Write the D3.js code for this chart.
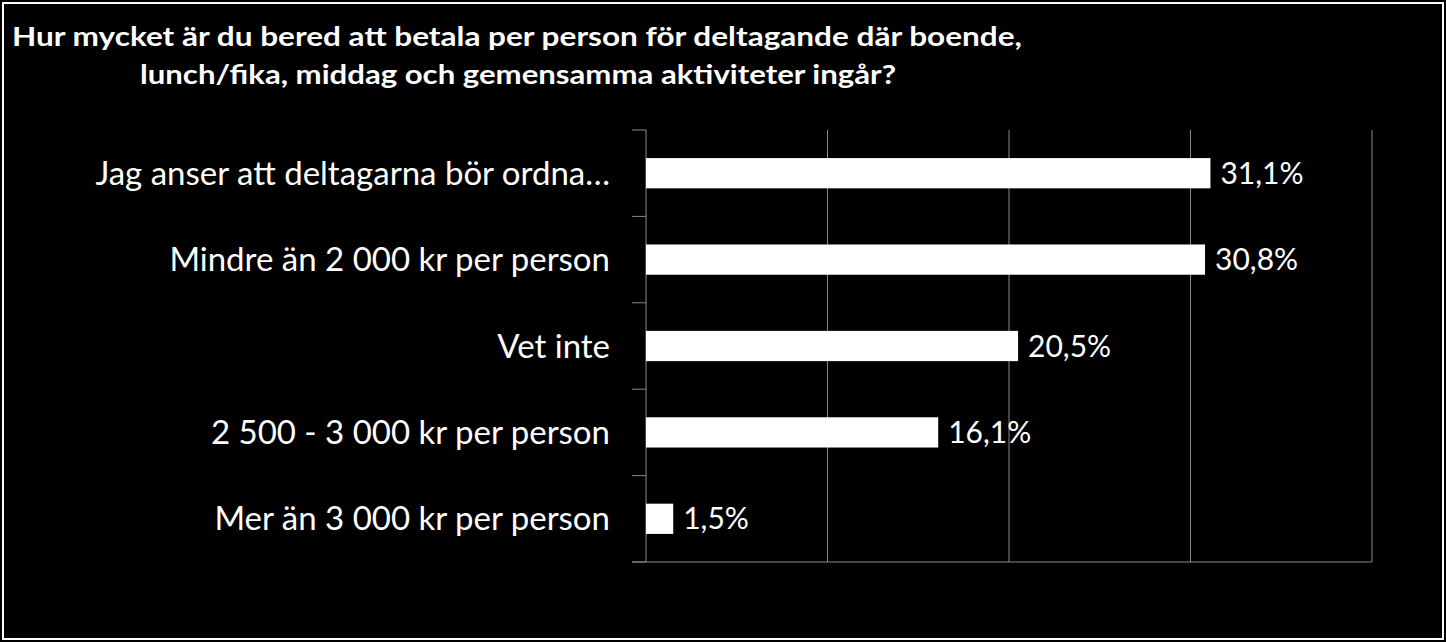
<!DOCTYPE html>
<html><head><meta charset="utf-8">
<script src="https://cdn.jsdelivr.net/npm/d3@7"></script>
<style>body{margin:0;background:#000;}svg{display:block;}</style>
</head><body>
<svg id="chart" width="1446" height="642"></svg>
<script>
// Survey answers
const categories = ["Jag anser att deltagarna bör ordna…", "Mindre än 2 000 kr per person", "Vet inte", "2 500 - 3 000 kr per person", "Mer än 3 000 kr per person"];
const values = [31.1, 30.8, 20.5, 16.1, 1.5];
const xTicks = [0, 10, 20, 30, 40];

const svg = d3.select("#chart");
svg.append("rect").attr("x", 3).attr("y", 3).attr("width", 1440).attr("height", 636)
    .attr("fill", "#000").attr("stroke", "#fff").attr("stroke-width", 2);

// Title, stretched to the reference widths
const title = svg.append("text").attr("fill", "#fff").attr("font-family", "Lato, 'Open Sans', sans-serif")
    .attr("font-weight", "bold").attr("font-size", 26);
title.append("tspan").attr("x", 12).attr("y", 46).attr("textLength", 1010).attr("lengthAdjust", "spacingAndGlyphs")
    .text("Hur mycket är du bered att betala per person för deltagande där boende,");
title.append("tspan").attr("x", 140).attr("y", 84).attr("textLength", 756).attr("lengthAdjust", "spacingAndGlyphs")
    .text("lunch/fika, middag och gemensamma aktiviteter ingår?");

const x = d3.scaleLinear().domain([0, 40]).range([646, 1372]);
const y = d3.scaleBand().domain(categories).range([130, 562]).paddingInner(0.65).paddingOuter(0.325);

// Vertical gridlines
svg.append("g").selectAll("line").data(xTicks.slice(1)).join("line")
    .attr("x1", d => x(d)).attr("x2", d => x(d)).attr("y1", 130).attr("y2", 562)
    .attr("stroke", "#888").attr("stroke-width", 1);

// Category axis with ticks between bands
const bandStep = (562 - 130) / categories.length;
const g = svg.append("g");
g.append("line").attr("x1", 646).attr("x2", 646).attr("y1", 130).attr("y2", 562).attr("stroke", "#888");
g.append("line").attr("x1", 632).attr("x2", x(40)).attr("y1", 562).attr("y2", 562).attr("stroke", "#888");
g.selectAll(".tick").data(d3.range(categories.length + 1)).join("line")
    .attr("x1", 632).attr("x2", 646).attr("y1", i => 130 + i * bandStep).attr("y2", i => 130 + i * bandStep)
    .attr("stroke", "#888");

// Bars
svg.append("g").selectAll("rect").data(values).join("rect")
    .attr("x", x(0)).attr("y", (d, i) => y(categories[i]))
    .attr("width", d => x(d) - x(0)).attr("height", y.bandwidth())
    .attr("fill", "#fff");

// Category labels
svg.append("g").selectAll("text").data(categories).join("text")
    .attr("x", 610).attr("y", d => y(d) + y.bandwidth() / 2).attr("dy", "0.35em")
    .attr("text-anchor", "end").attr("fill", "#fff")
    .attr("font-family", "Lato, 'Open Sans', sans-serif").attr("font-size", 33)
    .text(d => d);

// Value labels
svg.append("g").selectAll("text").data(values).join("text")
    .attr("x", d => x(d) + 10).attr("y", (d, i) => y(categories[i]) + y.bandwidth() / 2).attr("dy", "0.35em")
    .attr("fill", "#fff").attr("font-family", "Lato, 'Open Sans', sans-serif").attr("font-size", 30)
    .text(d => d.toFixed(1).replace(".", ",") + "%");
</script>
</body></html>
